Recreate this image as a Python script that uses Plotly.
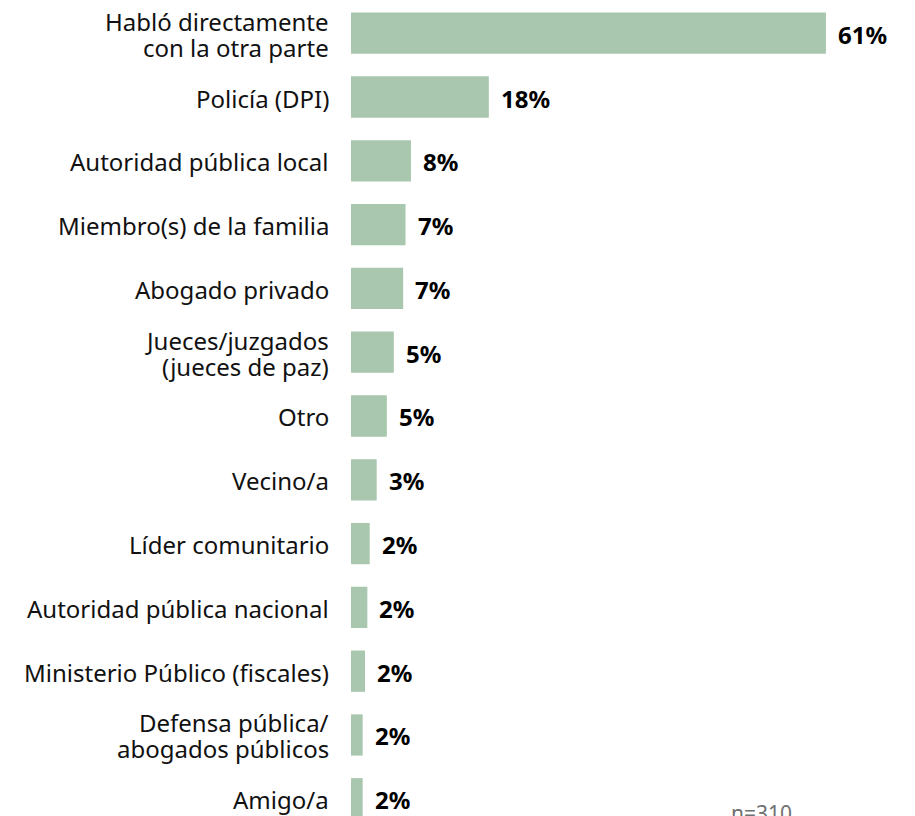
import plotly.graph_objects as go

categories = [
    "Habló directamente<br>con la otra parte",
    "Policía (DPI)",
    "Autoridad pública local",
    "Miembro(s) de la familia",
    "Abogado privado",
    "Jueces/juzgados<br>(jueces de paz)",
    "Otro",
    "Vecino/a",
    "Líder comunitario",
    "Autoridad pública nacional",
    "Ministerio Público (fiscales)",
    "Defensa pública/<br>abogados públicos",
    "Amigo/a",
]
values = [61.0, 17.7, 7.7, 7.0, 6.7, 5.5, 4.6, 3.3, 2.4, 2.1, 1.8, 1.5, 1.5]
value_labels = ["61%", "18%", "8%", "7%", "7%", "5%", "5%", "3%", "2%", "2%", "2%", "2%", "2%"]
sample_note = "n=310"

FONT = "Noto Sans"
BAR = "#A8C7AE"
LINE_GAP = 26  # px between lines of a wrapped category label

# page body has an 8px margin, so the figure is sized to fill the rest
W, H = 907, 808

fig = go.Figure()
fig.add_trace(go.Bar(
    x=values,
    y=categories,
    orientation="h",
    marker=dict(color=BAR, line=dict(width=0)),
    width=0.647,
    hoverinfo="skip",
))

# value labels
for cat, v, lab in zip(categories, values, value_labels):
    fig.add_annotation(
        x=v, y=cat, xref="x", yref="y",
        text=f"<b>{lab}</b>",
        showarrow=False, xanchor="left", yanchor="middle",
        xshift=10, yshift=-1,
        font=dict(family=FONT, size=24, color="#000000"),
    )

# category labels (drawn line by line for tighter leading)
for cat in categories:
    lines = cat.split("<br>")
    n = len(lines)
    for k, line in enumerate(lines):
        off = (k - (n - 1) / 2) * LINE_GAP
        fig.add_annotation(
            x=0, y=cat, xref="x", yref="y",
            text=line, showarrow=False,
            xanchor="right", yanchor="middle", align="right",
            xshift=-20, yshift=-off - 1,
            font=dict(family=FONT, size=24, color="#111111"),
        )

fig.add_annotation(
    x=0.754, y=1 - 805 / H, xref="paper", yref="paper",
    text=sample_note, showarrow=False,
    xanchor="center", yanchor="middle",
    font=dict(family=FONT, size=21, color="#707070"),
)

fig.update_layout(
    width=W, height=H,
    margin=dict(l=343, r=19, t=0, b=0),
    plot_bgcolor="white", paper_bgcolor="white",
    showlegend=False,
    font=dict(family=FONT, size=20, color="#111111"),
)
fig.update_xaxes(range=[0, 70], visible=False, showgrid=False,
                 zeroline=False, automargin=False)
fig.update_yaxes(
    type="category",
    categoryorder="array", categoryarray=categories,
    range=[12.27, -0.395],
    showgrid=False, zeroline=False, showline=False,
    showticklabels=False, ticks="", automargin=False,
)

fig.write_html("out.html")
